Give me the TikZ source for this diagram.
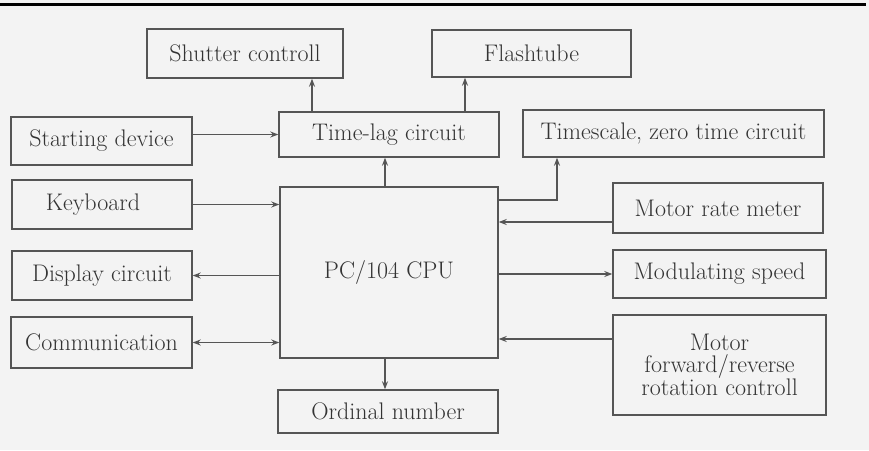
\documentclass[tikz,border=0pt]{standalone}
\usetikzlibrary{arrows.meta}
\definecolor{bg}{HTML}{F3F3F3}
\definecolor{ln}{HTML}{555555}
\definecolor{tx}{HTML}{333333}
\tikzset{
  blk/.style={draw=ln, line width=1.4pt, inner sep=0pt, text=tx,
    font=\fontsize{24}{22}\selectfont, align=center},
  arr/.style={draw=ln, line width=1.3pt, -{Stealth[length=8pt,width=6pt]}},
  darr/.style={draw=ln, line width=1.3pt, {Stealth[length=8pt,width=6pt]}-{Stealth[length=8pt,width=6pt]}}
}
\begin{document}
\begin{tikzpicture}[x=1pt,y=-1pt]
\fill[bg] (0,0) rectangle (869,450);
\useasboundingbox (0,0) rectangle (869,450);
\draw[black, line width=3pt] (0,4) -- (866,4);
% boxes
\node[blk, minimum width=196pt, minimum height=49pt] (sc) at (245,53.5) {Shutter controll};
\node[blk, minimum width=199pt, minimum height=47pt] (ft) at (531.5,53.5) {Flashtube};
\node[blk, minimum width=181pt, minimum height=48pt] (sd) at (101.5,141) {Starting device};
\node[blk, minimum width=220pt, minimum height=45pt] (tl) at (389,134.5) {Time-lag circuit};
\node[blk, minimum width=301pt, minimum height=47pt] (ts) at (673.5,133.5) {Timescale, zero time circuit};
\node[blk, minimum width=180pt, minimum height=49pt] (kb) at (102,204.5) {\hspace*{-18pt}Keyboard};
\node[blk, minimum width=218pt, minimum height=171pt] (cpu) at (389,272.5) {PC/104 CPU};
\node[blk, minimum width=210pt, minimum height=50pt] (mr) at (718,208) {Motor rate meter};
\node[blk, minimum width=180pt, minimum height=49pt] (dc) at (102,275.5) {Display circuit};
\node[blk, minimum width=213pt, minimum height=48pt] (ms) at (719.5,274) {Modulating speed};
\node[blk, minimum width=181pt, minimum height=51pt] (cm) at (101.5,342.5) {Communication};
\node[blk, minimum width=213pt, minimum height=100pt] (mf) at (719.5,365) {Motor\\forward/reverse\\rotation controll};
\node[blk, minimum width=220pt, minimum height=43pt] (on) at (388,411.5) {Ordinal number};
% helper coordinates
\coordinate (tlA) at (312,134.5);
\coordinate (tlB) at (465,134.5);
\coordinate (cpuT) at (385,272);
\coordinate (cpuTS) at (498,200);
\coordinate (bend) at (557,200);
\coordinate (mrL) at (613,222);
\coordinate (mfL) at (613,339);
% connectors
\draw[arr] (tlA |- tl.north) -- (tlA |- sc.south);
\draw[arr] (tlB |- tl.north) -- (tlB |- ft.south);
\draw[arr] (cpuT |- cpu.north) -- (cpuT |- tl.south);
\draw[arr] (cpuTS) -- (bend) -- (bend |- ts.south);
\draw[arr] (sd.east |- tl.west) -- (tl.west);
\draw[arr] (kb.east) -- (kb.east -| cpu.west);
\draw[arr] (dc.east -| cpu.west) -- (dc.east);
\draw[darr] (cm.east) -- (cm.east -| cpu.west);
\draw[arr] (mrL) -- (mrL -| cpu.east);
\draw[arr] (ms.west -| cpu.east) -- (ms.west);
\draw[arr] (mfL) -- (mfL -| cpu.east);
\draw[arr] (cpuT |- cpu.south) -- (cpuT |- on.north);
\end{tikzpicture}
\end{document}
